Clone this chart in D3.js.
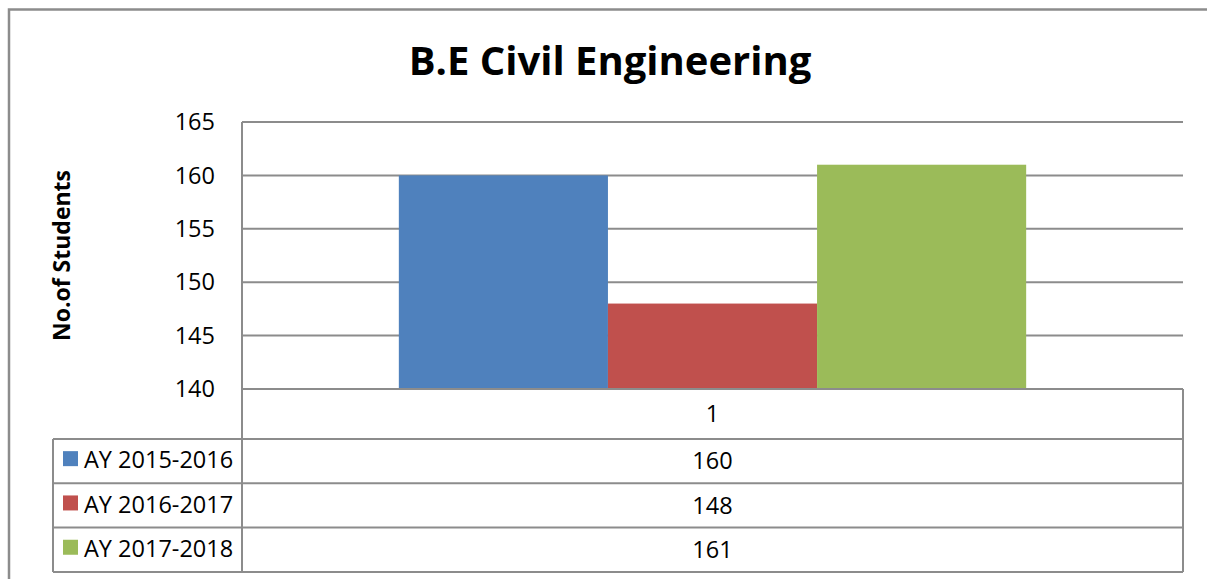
<!DOCTYPE html>
<head>
  <meta charset="utf-8">
  <script src="https://d3js.org/d3.v7.min.js"></script>
  <style>
    body { margin:0; background:#fff; }
    text { font-family: "Open Sans", "DejaVu Sans", sans-serif; fill:#000; }
  </style>
</head>
<body>
  <script>
    // chart data
    var categories = ["1"];
    var seriesNames = ["AY 2015-2016", "AY 2016-2017", "AY 2017-2018"];
    var seriesValues = [160, 148, 161];
    var seriesColors = ["#4F81BD", "#C0504D", "#9BBB59"];
    var yTicks = [140, 145, 150, 155, 160, 165];
    var titleText = "B.E Civil Engineering";
    var yTitle = "No.of Students";

    var width = 1207, height = 579;
    var plot = { left: 242, right: 1183, top: 122, bottom: 389 };
    var tableLeft = 53, catRowBottom = 439, rowH = 44.3;
    var gridColor = "#8c8c8c";
    var fs = 23.5;

    var svg = d3.select("body").append("svg")
      .attr("width", width)
      .attr("height", height);

    // outer chart border (runs past right and bottom edges)
    svg.append("path")
      .attr("d", "M9,590 L9,9.5 L1220,9.5")
      .attr("fill", "none")
      .attr("stroke", gridColor)
      .attr("stroke-width", 2.5);

    var y = d3.scaleLinear().domain([d3.min(yTicks), d3.max(yTicks)])
      .range([plot.bottom, plot.top]);

    var x0 = d3.scaleBand().domain(categories)
      .range([plot.left, plot.right]).padding(0);

    var x1 = d3.scaleBand().domain(seriesNames)
      .range([0, x0.bandwidth()]).paddingInner(0).paddingOuter(0.75);

    // gridlines
    svg.append("g").selectAll("line")
      .data(yTicks)
      .enter().append("line")
      .attr("x1", plot.left).attr("x2", plot.right)
      .attr("y1", function(d) { return y(d); })
      .attr("y2", function(d) { return y(d); })
      .attr("stroke", gridColor)
      .attr("stroke-width", 2);

    // bars
    categories.forEach(function(c) {
      svg.append("g").selectAll("rect")
        .data(seriesNames)
        .enter().append("rect")
        .attr("x", function(d) { return x0(c) + x1(d); })
        .attr("width", x1.bandwidth())
        .attr("y", function(d, i) { return y(seriesValues[i]); })
        .attr("height", function(d, i) { return y(d3.min(yTicks)) - y(seriesValues[i]); })
        .attr("fill", function(d, i) { return seriesColors[i]; });
    });

    // axis line at 140 redrawn over bars
    svg.append("line")
      .attr("x1", plot.left).attr("x2", plot.right)
      .attr("y1", plot.bottom).attr("y2", plot.bottom)
      .attr("stroke", gridColor).attr("stroke-width", 2);

    // y tick labels
    svg.append("g").selectAll("text")
      .data(yTicks)
      .enter().append("text")
      .attr("x", 215)
      .attr("y", function(d) { return y(d); })
      .attr("dy", "0.35em")
      .attr("text-anchor", "end")
      .attr("font-size", fs)
      .text(function(d) { return d; });

    // y axis title
    svg.append("text")
      .attr("transform", "translate(70," + ((plot.top + plot.bottom) / 2) + ") rotate(-90)")
      .attr("text-anchor", "middle")
      .attr("font-size", 23)
      .attr("font-weight", "bold")
      .text(yTitle);

    // title
    svg.append("text")
      .attr("x", 610)
      .attr("y", 75)
      .attr("text-anchor", "middle")
      .attr("font-size", 40)
      .attr("font-weight", "bold")
      .text(titleText);

    // data table
    var tableBottom = catRowBottom + rowH * seriesNames.length;
    var tbl = svg.append("g");

    // vertical axis line, through the table
    tbl.append("line")
      .attr("x1", plot.left).attr("x2", plot.left)
      .attr("y1", plot.top).attr("y2", tableBottom)
      .attr("stroke", gridColor).attr("stroke-width", 2);

    tbl.append("line")
      .attr("x1", plot.right).attr("x2", plot.right)
      .attr("y1", plot.bottom).attr("y2", tableBottom)
      .attr("stroke", gridColor).attr("stroke-width", 2);

    tbl.append("line")
      .attr("x1", tableLeft).attr("x2", tableLeft)
      .attr("y1", catRowBottom).attr("y2", tableBottom)
      .attr("stroke", gridColor).attr("stroke-width", 2);

    tbl.selectAll("line.row")
      .data(d3.range(seriesNames.length + 1))
      .enter().append("line")
      .attr("class", "row")
      .attr("x1", tableLeft).attr("x2", plot.right)
      .attr("y1", function(i) { return catRowBottom + i * rowH; })
      .attr("y2", function(i) { return catRowBottom + i * rowH; })
      .attr("stroke", gridColor).attr("stroke-width", 2);

    // category label
    categories.forEach(function(c) {
      tbl.append("text")
        .attr("x", x0(c) + x0.bandwidth() / 2)
        .attr("y", (plot.bottom + catRowBottom) / 2)
        .attr("dy", "0.35em")
        .attr("text-anchor", "middle")
        .attr("font-size", fs)
        .text(c);
    });

    var rows = tbl.selectAll("g.row")
      .data(seriesNames)
      .enter().append("g")
      .attr("class", "row")
      .attr("transform", function(d, i) { return "translate(0," + (catRowBottom + i * rowH + rowH / 2) + ")"; });

    rows.append("rect")
      .attr("x", 63).attr("y", -10)
      .attr("width", 15).attr("height", 15)
      .attr("fill", function(d, i) { return seriesColors[i]; });

    rows.append("text")
      .attr("x", 84)
      .attr("dy", "0.3em")
      .attr("font-size", fs)
      .text(function(d) { return d; });

    rows.append("text")
      .attr("x", x0(categories[0]) + x0.bandwidth() / 2)
      .attr("dy", "0.35em")
      .attr("text-anchor", "middle")
      .attr("font-size", fs)
      .text(function(d, i) { return seriesValues[i]; });
  </script>
</body>
